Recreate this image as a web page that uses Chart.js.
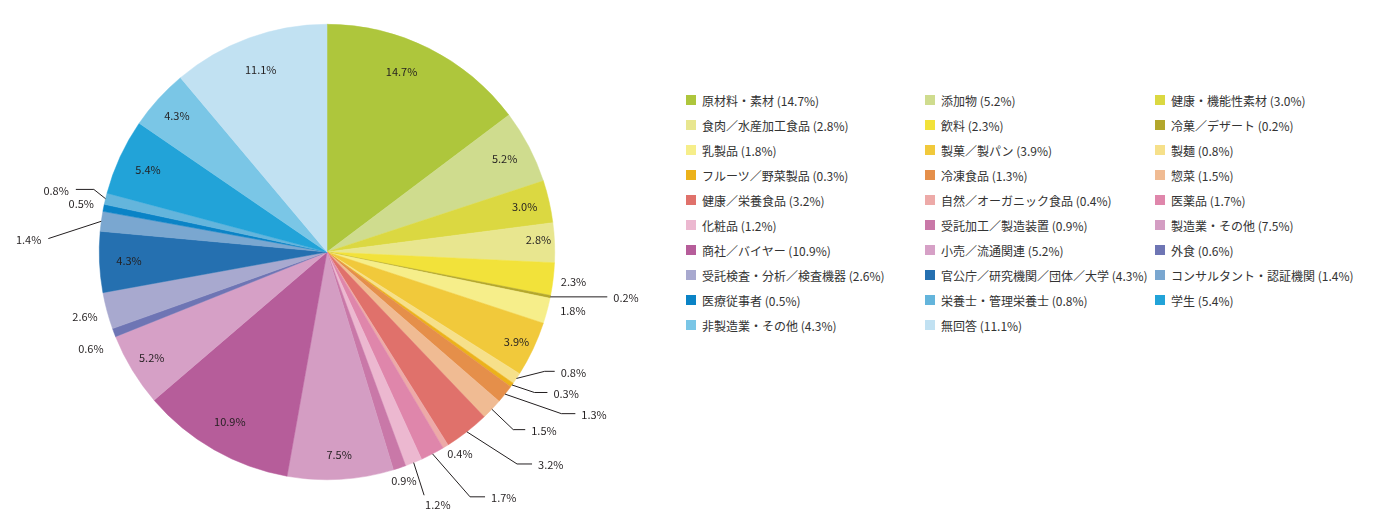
<!DOCTYPE html>
<html lang="ja">
<head>
<meta charset="utf-8">
<script src="https://cdn.jsdelivr.net/npm/chart.js@4/dist/chart.umd.min.js"></script>
<style>
  html, body { margin: 0; padding: 0; background: #fff; }
  body { width: 1400px; height: 532px; position: relative; overflow: hidden;
         font-family: "Noto Sans CJK JP", "Noto Sans", sans-serif; }
  #wrap { position: absolute; left: 0; top: 0; width: 654px; height: 532px; }
  #legend { position: absolute; left: 686px; top: 88px; width: 700px;
            display: grid; grid-template-columns: 239px 230px 230px; grid-auto-rows: 25px; }
  .item { display: flex; align-items: center; font-size: 12px; color: #333; white-space: nowrap; height: 24px; }
  .sw { width: 10px; height: 10px; margin-right: 6px; flex: none; }
</style>
</head>
<body>
<div id="wrap"><canvas id="pieChart"></canvas></div>
<div id="legend"></div>
<script>
var LABELS = ['原材料・素材', '添加物', '健康・機能性素材', '食肉／水産加工食品', '飲料', '冷菓／デザート',
              '乳製品', '製菓／製パン', '製麺', 'フルーツ／野菜製品', '冷凍食品', '惣菜',
              '健康／栄養食品', '自然／オーガニック食品', '医薬品', '化粧品', '受託加工／製造装置', '製造業・その他',
              '商社／バイヤー', '小売／流通関連', '外食', '受託検査・分析／検査機器', '官公庁／研究機関／団体／大学', 'コンサルタント・認証機関',
              '医療従事者', '栄養士・管理栄養士', '学生', '非製造業・その他', '無回答'];
var VALUES = [14.7, 5.2, 3.0, 2.8, 2.3, 0.2,
              1.8, 3.9, 0.8, 0.3, 1.3, 1.5,
              3.2, 0.4, 1.7, 1.2, 0.9, 7.5,
              10.9, 5.2, 0.6, 2.6, 4.3, 1.4,
              0.5, 0.8, 5.4, 4.3, 11.1];
var COLORS = ['#aec63c', '#cfdc8e', '#dbd841', '#e8e68f', '#f2e23a', '#b3a72c',
              '#f6ee8a', '#f1c93b', '#f6e08a', '#ecb21a', '#e58f4a', '#f0bb93',
              '#e0716b', '#edaaa8', '#df86ab', '#ecb8d0', '#c978a8', '#d49dc3',
              '#b65d9a', '#d6a0c6', '#6e75b4', '#a8a9cf', '#2570b0', '#7aa7d0',
              '#0a83c6', '#64b5dc', '#22a3d8', '#7ac6e6', '#c1e1f2'];

// label placement per slice: in / out (radius factor, angle shift deg) or leader line
var LABEL_LAYOUT = [
  {m: 'in', r: 0.855, a: -4}, {m: 'in', r: 0.88}, {m: 'in', r: 0.89}, {m: 'in', r: 0.93, a: -1},
  {m: 'out', r: 1.09}, {m: 'line', r: 1.0, a: 0, arm: 57},
  {m: 'out', r: 1.11, a: -1.5}, {m: 'in', r: 0.92}, {m: 'line', r: 1.09, a: -5, arm: 10},
  {m: 'line', r: 1.10, a: -1.6, arm: 13}, {m: 'line', r: 1.25, a: -4, arm: 14}, {m: 'line', r: 1.13, a: 0, arm: 12},
  {m: 'line', r: 1.25, a: -4, arm: 15}, {m: 'out', r: 1.06, a: -2}, {m: 'line', r: 1.245, a: -2.7, arm: 15},
  {m: 'line', r: 1.15, a: 0.6, arm: 0, below: true}, {m: 'out', r: 1.06}, {m: 'in', r: 0.89},
  {m: 'in', r: 0.86}, {m: 'in', r: 0.90}, {m: 'out', r: 1.12, a: -1.5},
  {m: 'out', r: 1.10}, {m: 'in', r: 0.87}, {m: 'line', r: 1.225, a: -5, arm: 0},
  {m: 'out', r: 1.10}, {m: 'line', r: 1.06, a: 1.5, arm: 18}, {m: 'in', r: 0.865},
  {m: 'in', r: 0.89}, {m: 'in', r: 0.85}
];

var sliceLabels = {
  id: 'sliceLabels',
  afterDatasetsDraw: function (chart) {
    var ctx = chart.ctx;
    var arcs = chart.getDatasetMeta(0).data;
    ctx.save();
    ctx.font = '11px "Noto Sans CJK JP", "Noto Sans", sans-serif';
    ctx.fillStyle = '#231f20';
    ctx.strokeStyle = '#231f20';
    ctx.lineWidth = 1;
    ctx.textBaseline = 'middle';
    arcs.forEach(function (arc, i) {
      var L = LABEL_LAYOUT[i];
      var text = VALUES[i].toFixed(1) + '%';
      var mid = (arc.startAngle + arc.endAngle) / 2;
      var ang = mid + (L.a || 0) * Math.PI / 180;
      var R = arc.outerRadius;
      if (L.m !== 'line') {
        ctx.textAlign = 'center';
        ctx.fillText(text, arc.x + Math.cos(ang) * R * L.r, arc.y + Math.sin(ang) * R * L.r);
        return;
      }
      var sx = arc.x + Math.cos(mid) * R, sy = arc.y + Math.sin(mid) * R;
      var ex = arc.x + Math.cos(ang) * R * L.r, ey = arc.y + Math.sin(ang) * R * L.r;
      var right = ex >= arc.x;
      var hx = ex + (right ? L.arm : -L.arm);
      ctx.beginPath();
      ctx.moveTo(sx, sy);
      ctx.lineTo(ex, ey);
      ctx.lineTo(hx, ey);
      ctx.stroke();
      if (L.below) {
        ctx.textAlign = 'left';
        ctx.fillText(text, ex + 1, ey + 10);
      } else {
        ctx.textAlign = right ? 'left' : 'right';
        ctx.fillText(text, hx + (right ? 6 : -7), ey + 1);
      }
    });
    ctx.restore();
  }
};

var CHART = new Chart(document.getElementById('pieChart'), {
  type: 'pie',
  data: {
    labels: LABELS,
    datasets: [{ data: VALUES, backgroundColor: COLORS, borderColor: COLORS, borderWidth: 0.5 }]
  },
  options: {
    responsive: true,
    maintainAspectRatio: false,
    animation: false,
    layout: { padding: { top: 24, bottom: 52, left: 0, right: 0 } },
    plugins: { legend: { display: false }, tooltip: { enabled: false } }
  },
  plugins: [sliceLabels]
});

var legendBox = document.getElementById('legend');
LABELS.forEach(function (name, i) {
  var item = document.createElement('div');
  item.className = 'item';
  item.innerHTML = '<span class="sw" style="background:' + COLORS[i] + '"></span>' +
                   '<span>' + name + ' (' + VALUES[i].toFixed(1) + '%)</span>';
  legendBox.appendChild(item);
});
</script>
</body>
</html>
